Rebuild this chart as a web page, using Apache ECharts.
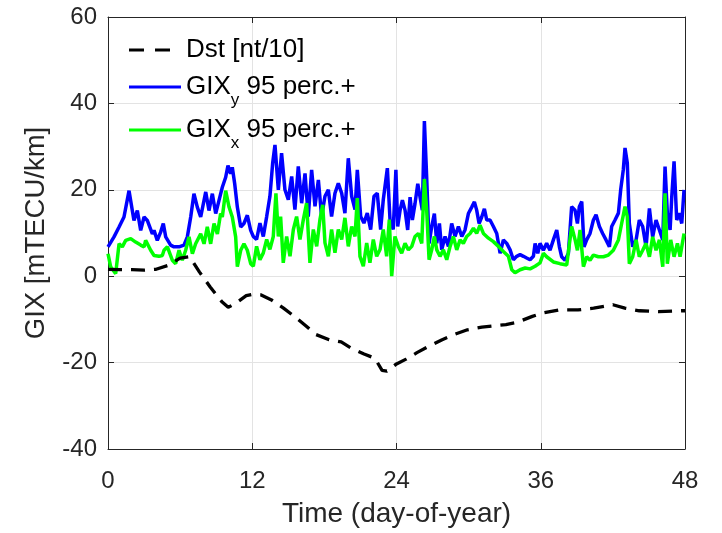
<!DOCTYPE html>
<html>
<head>
<meta charset="utf-8">
<script src="https://cdn.jsdelivr.net/npm/echarts@6/dist/echarts.min.js"></script>
<style>
html,body{margin:0;padding:0;background:#fff;}
#chart{width:722px;height:533px;}
</style>
</head>
<body>
<div id="chart"></div>
<script>
// ---- data ----
const xTicks = [0, 12, 24, 36, 48];
const yTicks = [-40, -20, 0, 20, 40, 60];

const legendNames = ['Dst [nt/10]', 'GIXy', 'GIXx'];

const dstDays = [0, 1, 2, 3, 4, 5, 6, 6.8, 7.6, 8.5, 9.5, 10.0, 10.5, 11.5, 12.0, 12.7, 13.6, 14.6, 15.5, 16.5, 17.3, 18.4, 19.4, 20.2, 21.3, 22.2, 22.8, 23.2, 24.0, 24.8, 25.7, 26.7, 27.8, 28.8, 29.9, 31.1, 33.1, 34.0, 35.3, 36.2, 37.5, 39.1, 40.4, 42.0, 43.0, 44.2, 45.8, 47.7, 48];
const dstVals = [1.6, 1.5, 1.5, 1.4, 1.6, 2.5, 4.2, 4.5, 1.0, -2.5, -6.0, -7.2, -6.5, -4.5, -4.2, -4.3, -5.5, -7.4, -9.3, -11.6, -13.5, -14.7, -15.2, -16.6, -18.0, -19.0, -21.8, -22.0, -20.3, -19.2, -17.7, -16.2, -14.7, -13.5, -12.4, -11.8, -11.2, -10.7, -9.3, -8.5, -7.8, -7.8, -7.4, -6.6, -7.4, -8.0, -8.2, -8.0, -8.0];

const gixyDays = [0.0, 0.5, 0.92, 1.33, 1.75, 2.16, 2.44, 2.72, 3.0, 3.27, 3.69, 3.83, 4.1, 4.38, 4.6, 4.8, 5.21, 5.49, 5.91, 6.32, 6.6, 6.88, 7.15, 7.43, 7.71, 8.13, 8.4, 8.68, 8.96, 9.23, 9.51, 9.79, 9.98, 10.2, 10.34, 10.54, 10.76, 11.04, 11.31, 11.59, 11.87, 12.09, 12.36, 12.64, 12.92, 13.2, 13.47, 13.7, 13.89, 14.17, 14.44, 14.72, 15.0, 15.28, 15.55, 15.83, 16.11, 16.39, 16.66, 16.94, 17.22, 17.5, 17.77, 18.05, 18.33, 18.6, 18.88, 19.16, 19.44, 19.71, 19.99, 20.27, 20.55, 20.74, 21.02, 21.29, 21.57, 21.85, 22.13, 22.4, 22.68, 22.9, 23.24, 23.46, 23.73, 23.95, 24.1, 24.3, 24.49, 24.71, 24.93, 25.13, 25.32, 25.54, 25.77, 25.96, 26.15, 26.32, 26.51, 26.71, 26.93, 27.15, 27.35, 27.57, 27.76, 28.04, 28.32, 28.59, 28.87, 29.15, 29.43, 29.7, 29.98, 30.26, 30.48, 30.67, 30.87, 31.09, 31.31, 31.51, 31.78, 32.06, 32.34, 32.62, 32.89, 33.17, 33.45, 33.72, 34.0, 34.28, 34.56, 34.83, 35.11, 35.39, 35.53, 35.75, 35.94, 36.22, 36.49, 36.77, 37.05, 37.33, 37.55, 37.74, 38.02, 38.3, 38.57, 38.85, 39.05, 39.21, 39.41, 39.6, 39.82, 40.1, 40.38, 40.6, 40.88, 41.15, 41.43, 41.71, 41.9, 42.18, 42.46, 42.65, 42.87, 43.01, 43.2, 43.37, 43.65, 43.93, 44.2, 44.48, 44.76, 45.04, 45.31, 45.59, 45.87, 46.15, 46.34, 46.53, 46.76, 46.9, 47.09, 47.31, 47.53, 47.73, 47.92];
const gixyVals = [6.8, 9.1, 11.4, 13.7, 19.8, 12.9, 15.2, 10.6, 13.7, 12.9, 9.8, 10.6, 8.3, 10.2, 12.2, 9.1, 7.2, 6.8, 6.8, 7.2, 9.1, 13.7, 19.1, 16.0, 13.7, 19.5, 15.2, 19.1, 14.5, 17.5, 20.6, 22.9, 25.6, 23.7, 25.2, 21.4, 16.0, 11.4, 12.2, 14.1, 10.6, 9.2, 8.5, 12.3, 9.2, 13.8, 18.5, 26.2, 30.4, 20.0, 28.5, 20.0, 17.7, 23.1, 15.4, 25.4, 16.9, 23.8, 13.8, 24.6, 16.2, 22.3, 13.8, 18.5, 20.0, 13.8, 19.2, 21.5, 19.2, 14.6, 27.3, 18.5, 15.4, 24.6, 13.8, 12.3, 14.6, 10.8, 18.5, 19.2, 10.8, 17.7, 25.0, 13.1, 10.8, 24.6, 11.5, 15.3, 17.6, 15.3, 10.7, 18.3, 13.0, 16.8, 21.4, 18.3, 15.3, 35.9, 22.9, 7.6, 11.5, 14.5, 7.6, 12.2, 6.1, 9.2, 6.9, 12.2, 9.2, 11.5, 9.2, 10.7, 14.5, 16.0, 17.2, 15.3, 12.2, 13.7, 15.6, 13.0, 13.0, 11.5, 9.9, 5.3, 8.4, 7.6, 6.1, 3.8, 4.6, 5.0, 4.6, 4.2, 3.8, 4.6, 7.6, 5.3, 7.6, 6.0, 7.6, 6.0, 8.4, 10.7, 6.8, 4.5, 3.7, 5.3, 16.1, 15.3, 12.2, 16.1, 17.3, 6.8, 8.4, 9.9, 13.0, 14.2, 11.5, 9.9, 8.4, 6.8, 11.5, 13.0, 14.6, 20.0, 24.7, 29.7, 26.2, 12.2, 6.8, 8.4, 13.0, 11.5, 6.8, 15.7, 9.1, 13.0, 10.7, 8.4, 25.4, 14.6, 10.7, 18.4, 26.6, 13.0, 14.6, 12.2, 20.0];

const gixxDays = [0.0, 0.22, 0.64, 0.92, 1.19, 1.47, 1.89, 2.3, 2.72, 3.0, 3.13, 3.55, 3.83, 4.24, 4.52, 4.66, 4.94, 5.35, 5.63, 5.91, 6.18, 6.46, 6.74, 7.02, 7.29, 7.71, 7.99, 8.26, 8.54, 8.82, 9.1, 9.37, 9.51, 9.79, 10.07, 10.34, 10.62, 10.76, 11.04, 11.31, 11.59, 11.87, 12.09, 12.36, 12.64, 12.92, 13.2, 13.47, 13.75, 13.97, 14.17, 14.36, 14.58, 14.86, 15.14, 15.42, 15.69, 15.97, 16.25, 16.52, 16.8, 17.08, 17.36, 17.63, 17.86, 18.05, 18.33, 18.6, 18.88, 19.16, 19.44, 19.71, 19.99, 20.27, 20.55, 20.74, 20.96, 21.24, 21.52, 21.79, 22.07, 22.35, 22.63, 22.9, 23.18, 23.4, 23.6, 23.87, 24.15, 24.43, 24.71, 24.99, 25.27, 25.54, 25.82, 26.1, 26.32, 26.51, 26.71, 26.93, 27.15, 27.35, 27.62, 27.9, 28.18, 28.46, 28.73, 29.01, 29.29, 29.56, 29.84, 30.12, 30.4, 30.67, 30.95, 31.23, 31.65, 32.06, 32.48, 32.89, 33.31, 33.59, 33.86, 34.28, 34.7, 35.11, 35.53, 35.94, 36.22, 36.49, 37.05, 37.6, 38.16, 38.57, 38.85, 39.05, 39.27, 39.55, 39.82, 40.1, 40.38, 40.79, 41.21, 41.63, 42.04, 42.46, 42.73, 43.01, 43.2, 43.37, 43.65, 43.93, 44.2, 44.48, 44.76, 45.04, 45.31, 45.59, 45.87, 46.15, 46.34, 46.53, 46.81, 47.09, 47.37, 47.59, 47.92];
const gixxVals = [5.2, 2.2, 0.6, 7.5, 6.8, 8.3, 8.7, 7.9, 7.2, 6.8, 8.3, 6.0, 4.8, 4.6, 4.8, 6.0, 6.8, 3.7, 2.9, 6.0, 3.7, 6.0, 9.1, 5.2, 7.5, 9.8, 7.5, 11.4, 7.5, 12.2, 9.8, 14.5, 13.7, 19.8, 16.0, 13.7, 9.1, 2.2, 6.0, 7.5, 6.0, 2.9, 2.3, 6.9, 3.8, 5.4, 8.5, 6.2, 9.2, 19.2, 9.2, 13.8, 3.1, 9.2, 4.6, 10.8, 13.8, 8.5, 13.1, 16.9, 3.1, 10.8, 6.9, 13.1, 16.5, 7.7, 4.6, 10.8, 5.4, 10.8, 8.5, 13.5, 6.9, 11.5, 9.2, 18.1, 4.6, 2.3, 7.7, 3.1, 8.5, 4.6, 6.2, 10.8, 4.6, 13.1, 0.0, 9.2, 6.9, 5.3, 7.6, 6.1, 6.9, 9.2, 9.9, 7.6, 22.5, 15.3, 3.8, 6.1, 9.2, 6.1, 4.6, 6.1, 3.8, 6.9, 9.2, 6.1, 8.4, 7.6, 9.2, 9.9, 11.1, 9.9, 11.8, 9.9, 8.8, 8.0, 6.9, 5.7, 4.6, 1.5, 0.8, 1.5, 1.9, 1.7, 2.3, 3.1, 5.3, 4.5, 3.3, 2.9, 2.6, 11.5, 8.5, 6.0, 10.7, 2.2, 4.5, 3.7, 4.9, 4.5, 4.5, 4.9, 6.0, 8.4, 12.2, 16.1, 13.8, 2.9, 4.5, 8.4, 4.5, 6.0, 7.6, 4.5, 9.1, 6.0, 8.4, 2.2, 19.2, 2.9, 8.4, 4.5, 7.6, 4.5, 9.9];

// ---- chart ----
const FONT = "'Liberation Sans', Arial, Helvetica, sans-serif";
const TXT = '#262626';
const pairs = (xs, ys) => xs.map((x, i) => [x, ys[i]]);

const chart = echarts.init(document.getElementById('chart'), null, {renderer: 'canvas'});

const LFS = 26;
const legendRich = {
  m: {fontSize: LFS, fontFamily: FONT, color: '#000', lineHeight: 30},
  s: {fontSize: 17, fontFamily: FONT, color: '#000', padding: [26, 0, 0, 0]}
};
const legendFmt = function (name) {
  if (name === 'GIXy') return '{m|GIX}{s|y}{m| 95 perc.+}';
  if (name === 'GIXx') return '{m|GIX}{s|x}{m| 95 perc.+}';
  return '{m|' + name + '}';
};
const ICON_DASH = 'path://M0 0H15V3H0ZM26 0H41V3H26ZM52 0L52 3';
function mkLegend(name, top, icon) {
  return {
    data: [name], left: 129, top: top, orient: 'vertical', padding: 0,
    itemWidth: 52, itemHeight: 3, icon: icon, itemGap: 0,
    selectedMode: false, formatter: legendFmt,
    textStyle: {rich: legendRich, fontFamily: FONT, fontSize: LFS, color: '#000'}
  };
}

const option = {
  animation: false,
  backgroundColor: '#fff',
  textStyle: {fontFamily: FONT, color: TXT},
  grid: {left: 108, right: 37, top: 17, bottom: 82, show: false},
  legend: [mkLegend(legendNames[0], 37, ICON_DASH), mkLegend(legendNames[1], 74, 'rect'), mkLegend(legendNames[2], 117, 'rect')],
  xAxis: [{
    type: 'value', min: xTicks[0], max: xTicks[xTicks.length - 1], interval: 12,
    name: 'Time (day-of-year)', nameLocation: 'middle', nameGap: 51,
    nameTextStyle: {fontSize: 28, color: TXT, fontFamily: FONT},
    axisLine: {show: true, onZero: false, lineStyle: {color: TXT, width: 1}},
    axisTick: {show: true, inside: true, length: 6, lineStyle: {color: TXT}},
    axisLabel: {fontSize: 24, color: TXT, margin: 20, fontFamily: FONT},
    splitLine: {show: true, lineStyle: {color: '#e3e3e3', width: 1}}
  }, {
    type: 'value', position: 'top', min: xTicks[0], max: xTicks[xTicks.length - 1], interval: 12,
    axisLine: {show: true, onZero: false, lineStyle: {color: TXT, width: 1}},
    axisTick: {show: true, inside: true, length: 6, lineStyle: {color: TXT}},
    axisLabel: {show: false}, splitLine: {show: false}
  }],
  yAxis: [{
    type: 'value', min: yTicks[0], max: yTicks[yTicks.length - 1], interval: 20,
    name: 'GIX [mTECU/km]', nameLocation: 'middle', nameGap: 58,
    nameTextStyle: {fontSize: 27.5, color: TXT, fontFamily: FONT},
    axisLine: {show: true, onZero: false, lineStyle: {color: TXT, width: 1}},
    axisTick: {show: true, inside: true, length: 6, lineStyle: {color: TXT}},
    axisLabel: {fontSize: 24, color: TXT, margin: 11, fontFamily: FONT},
    splitLine: {show: true, lineStyle: {color: '#e3e3e3', width: 1}}
  }, {
    type: 'value', position: 'right', min: yTicks[0], max: yTicks[yTicks.length - 1], interval: 20,
    axisLine: {show: true, onZero: false, lineStyle: {color: TXT, width: 1}},
    axisTick: {show: true, inside: true, length: 6, lineStyle: {color: TXT}},
    axisLabel: {show: false}, splitLine: {show: false}
  }],
  series: [{
    name: legendNames[0], type: 'line', data: pairs(dstDays, dstVals),
    symbol: 'none', showSymbol: false, z: 5,
    lineStyle: {color: '#000', width: 3.3, type: [14, 9]}, itemStyle: {color: '#000'}
  }, {
    name: legendNames[1], type: 'line', data: pairs(gixyDays, gixyVals),
    symbol: 'none', showSymbol: false, z: 3,
    lineStyle: {color: '#0000ff', width: 3.5}, itemStyle: {color: '#0000ff'}
  }, {
    name: legendNames[2], type: 'line', data: pairs(gixxDays, gixxVals),
    symbol: 'none', showSymbol: false, z: 4,
    lineStyle: {color: '#00ff00', width: 3.5}, itemStyle: {color: '#00ff00'}
  }]
};
chart.setOption(option);
</script>
</body>
</html>
